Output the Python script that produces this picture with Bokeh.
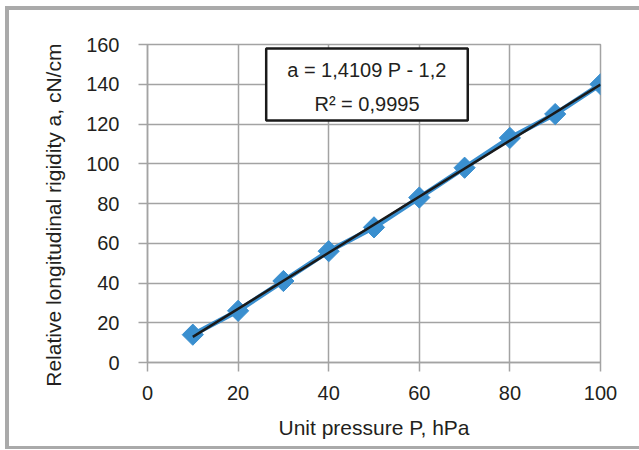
import math
from bokeh.plotting import figure
from bokeh.models import Label, FixedTicker, Range1d
from bokeh.embed import file_html
from bokeh.resources import INLINE

# Data
pressure = [10, 20, 30, 40, 50, 60, 70, 80, 90, 100]
rigidity = [14, 26, 41, 56, 68, 83, 98, 113, 125, 140]
trend_slope = 1.4109
trend_intercept = -1.2
trend_x = [10, 100]
trend_y = [trend_slope * x + trend_intercept for x in trend_x]
x_ticks = [0, 20, 40, 60, 80, 100]
y_ticks = [0, 20, 40, 60, 80, 100, 120, 140, 160]
eq_text = "a = 1,4109 P - 1,2\nR² = 0,9995"
x_title = "Unit pressure P, hPa"
y_title = "Relative longitudinal rigidity a, cN/cm"

FONT = "Liberation Sans"
TXT = "#231f20"
GRID = "#a3a3a3"
BLUE = "#3a8fcf"
NBSP = "\u00a0"

p = figure(width=639, height=450, output_backend="svg", toolbar_location=None,
           x_range=Range1d(0, 100), y_range=Range1d(0, 160),
           min_border_left=147, min_border_right=39, min_border_top=44, min_border_bottom=88)
p.background_fill_color = "white"
p.border_fill_color = "white"
p.border_fill_alpha = 0.0
p.outline_line_color = GRID
p.outline_line_width = 1.5
p.styles = {
    "background-color": "white",
    "box-shadow": ("inset 5px 0 0 #ffffff, inset 0 6px 0 #ffffff, inset 0 -1px 0 #ffffff, "
                   "inset 9px 0 0 #aaaaaa, inset 0 10px 0 #aaaaaa, inset 0 -4px 0 #aaaaaa"),
}

for ax, ticks in ((p.xaxis, x_ticks), (p.yaxis, y_ticks)):
    ax.ticker = FixedTicker(ticks=ticks)
    ax.minor_tick_line_color = None
    ax.major_tick_in = 0
    ax.major_tick_out = 9
    ax.major_tick_line_color = GRID
    ax.major_tick_line_width = 1.5
    ax.axis_line_color = GRID
    ax.axis_line_width = 1.5
    ax.major_label_text_font = FONT
    ax.major_label_text_font_size = "20px"
    ax.major_label_text_color = TXT
    ax.axis_label_text_font = FONT
    ax.axis_label_text_font_size = "21px"
    ax.axis_label_text_color = TXT
    ax.axis_label_text_font_style = "normal"

p.xaxis.axis_label = x_title
p.yaxis.axis_label = y_title + NBSP * 4
p.xaxis.major_label_standoff = 14
p.yaxis.major_label_standoff = 19
p.xaxis.axis_label_standoff = 13
p.yaxis.axis_label_standoff = 18

p.grid.grid_line_color = GRID
p.grid.grid_line_width = 1.5
p.grid.grid_line_alpha = 1.0

p.line(pressure, rigidity, line_color=BLUE, line_width=5)
p.scatter(pressure, rigidity, marker="square", angle=math.pi / 4, size=15,
          fill_color=BLUE, line_color=BLUE, line_width=1)
p.line(trend_x, trend_y, line_color="#1a1a1a", line_width=2.5)

eq = Label(x=48.45, y=139.9, text=eq_text, text_align="center", text_baseline="middle",
           text_font=FONT, text_font_size="20px", text_color=TXT, text_line_height=1.55,
           border_line_color="#1a1a1a", border_line_width=2.5,
           background_fill_color="white", background_fill_alpha=1.0,
           padding={"left": 21, "right": 21, "top": 11, "bottom": 5}, level="overlay")
p.add_layout(eq)

open("out.html", "w").write(file_html(p, INLINE))
